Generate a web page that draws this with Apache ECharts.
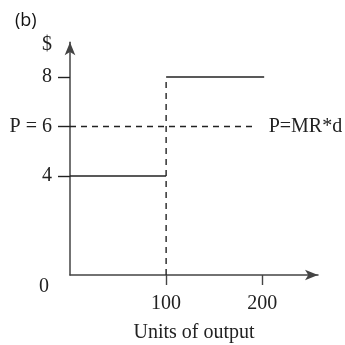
<!DOCTYPE html>
<html><head><meta charset="utf-8">
<script src="https://cdn.jsdelivr.net/npm/echarts@6/dist/echarts.min.js"></script>
<style>html,body{margin:0;padding:0;background:#fff}#c{width:345px;height:345px}</style>
</head><body><div id="c"></div>
<script>
const panelLabel = '(b)';
const xTicks = [100, 200];
const yTicks = [4, 6, 8];
const yLabelValues = [0, 4, 6, 8, 9.3];
const yLabelTexts = {0: '0', 4: '4', 6: 'P = 6', 8: '8', 9.3: '$'};
const lowSegment = [[0, 4], [100, 4]];
const highSegment = [[100, 8], [202, 8]];
const priceLine = [[0, 6], [190, 6]];
const dropLine = [[100, 0], [100, 8]];
const priceLineLabel = 'P=MR*d';
const xName = 'Units of output';

const serif = '"Liberation Serif", "DejaVu Serif", serif';
const ink = '#222';
const fs = 20;
const chart = echarts.init(document.getElementById('c'), null, {renderer: 'canvas'});
function seg(data, dashed, extra) {
  return Object.assign({
    type: 'line', data: data, symbol: 'none', silent: true, animation: false,
    lineStyle: {color: ink, width: 1.4, type: dashed ? [6, 5] : 'solid'}
  }, extra || {});
}
chart.setOption({
  animation: false,
  title: {text: panelLabel, left: 10, top: 7,
    textStyle: {fontFamily: '"Open Sans", "Noto Sans", sans-serif', fontWeight: 'normal', fontSize: 18, color: '#111'}},
  grid: {left: 70, right: 27, top: 42.35, bottom: 70, containLabel: false, outerBoundsMode: 'none'},
  xAxis: {
    type: 'value', min: 0, max: 258,
    name: xName, nameLocation: 'middle', nameGap: 48,
    nameTextStyle: {fontFamily: serif, fontSize: fs, color: '#222'},
    axisLine: {show: true, symbol: ['none', 'arrow'], symbolSize: [8, 13], lineStyle: {color: '#444', width: 1.5}},
    axisTick: {show: true, customValues: xTicks, length: 10, inside: false, lineStyle: {color: '#444', width: 1.4}},
    axisLabel: {customValues: xTicks, margin: 19, fontFamily: serif, fontSize: fs, color: '#222'},
    splitLine: {show: false}
  },
  yAxis: {
    type: 'value', min: 0, max: 9.4,
    axisLine: {show: true, symbol: ['none', 'arrow'], symbolSize: [8, 13], lineStyle: {color: '#444', width: 1.5}},
    axisTick: {show: true, customValues: yTicks, length: 12, inside: false, lineStyle: {color: '#222', width: 1.4}},
    axisLabel: {customValues: yLabelValues, margin: 18, fontFamily: serif, fontSize: fs, color: '#222',
      formatter: function (v) { return v === 0 ? '{z|0}' : (yLabelTexts[v] || ''); },
      rich: {z: {fontFamily: serif, fontSize: fs, color: '#222', padding: [24, 3, 0, 0]}}},
    splitLine: {show: false}
  },
  series: [
    seg(lowSegment, false),
    seg(highSegment, false),
    seg(dropLine, true),
    seg(priceLine, true, {endLabel: {show: true, formatter: priceLineLabel, distance: 16,
      fontFamily: serif, fontSize: fs, color: '#222'}})
  ]
});
</script></body></html>
